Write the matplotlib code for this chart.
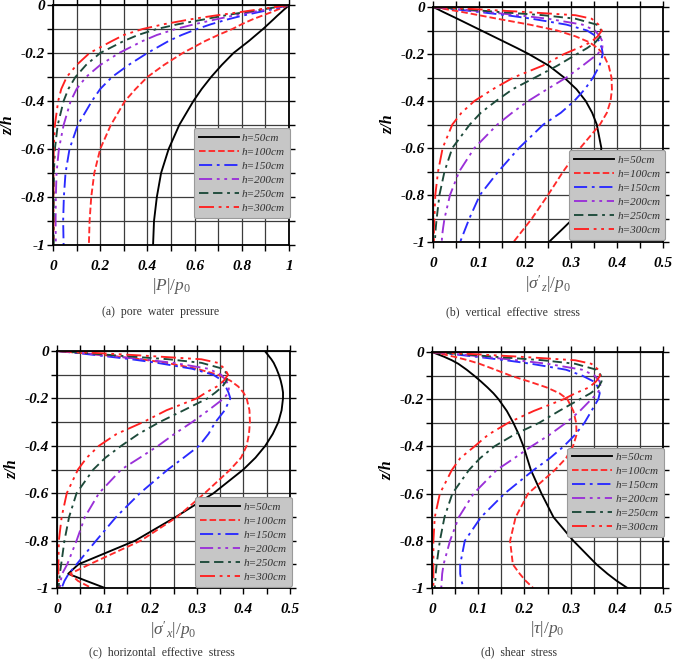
import matplotlib
matplotlib.use("Agg")
import matplotlib.pyplot as plt
from matplotlib.ticker import MultipleLocator, FuncFormatter

plt.rcParams['font.family'] = ['Liberation Serif', 'DejaVu Serif']
plt.rcParams['axes.unicode_minus'] = False
plt.rcParams['mathtext.fontset'] = 'custom'
plt.rcParams['mathtext.rm'] = 'Liberation Serif'
plt.rcParams['mathtext.it'] = 'Liberation Serif:italic'

labels = ['h=50cm', 'h=100cm', 'h=150cm', 'h=200cm', 'h=250cm', 'h=300cm']

# (a) pore water pressure |P|/p0
z_a = [0, -0.01, -0.02, -0.03, -0.045, -0.06, -0.08, -0.1, -0.125, -0.15, -0.2,
       -0.25, -0.3, -0.35, -0.4, -0.5, -0.6, -0.7, -0.8, -0.9, -1.0]
p_h50 = [1.0, 0.99, 0.978, 0.967, 0.95, 0.934, 0.912, 0.89, 0.86, 0.83, 0.765,
         0.715, 0.67, 0.63, 0.595, 0.535, 0.49, 0.458, 0.44, 0.428, 0.424]
p_h100 = [1.0, 0.975, 0.95, 0.925, 0.885, 0.845, 0.8, 0.76, 0.7, 0.645, 0.55,
          0.47, 0.40, 0.35, 0.305, 0.245, 0.2, 0.175, 0.162, 0.155, 0.152]
p_h150 = [1.0, 0.96, 0.92, 0.87, 0.8, 0.74, 0.67, 0.61, 0.545, 0.49, 0.40,
          0.32, 0.25, 0.2, 0.165, 0.105, 0.07, 0.053, 0.046, 0.043, 0.045]
p_h200 = [1.0, 0.95, 0.9, 0.84, 0.76, 0.69, 0.6, 0.52, 0.44, 0.38, 0.28,
          0.2, 0.14, 0.1, 0.075, 0.045, 0.025, 0.015, 0.012, 0.011, 0.012]
p_h250 = [1.0, 0.94, 0.88, 0.81, 0.72, 0.64, 0.53, 0.44, 0.36, 0.3, 0.2,
          0.14, 0.095, 0.065, 0.045, 0.02, 0.008, 0.004, 0.003, 0.003, 0.003]
p_h300 = [1.0, 0.93, 0.86, 0.79, 0.68, 0.58, 0.47, 0.38, 0.3, 0.25, 0.155,
          0.1, 0.058, 0.035, 0.022, 0.008, 0.003, 0.002, 0.002, 0.002, 0.002]

# depth points shared by (b), (c), (d)
z_s = [0, -0.01, -0.02, -0.035, -0.05, -0.075, -0.1, -0.125, -0.15, -0.175, -0.2,
       -0.25, -0.3, -0.35, -0.4, -0.45, -0.5, -0.6, -0.7, -0.8, -0.9, -0.94, -0.97, -1.0]

# (b) vertical effective stress
sz_h50 = [0, 0.011, 0.021, 0.037, 0.053, 0.079, 0.105, 0.131, 0.157, 0.183, 0.208,
          0.252, 0.285, 0.312, 0.332, 0.346, 0.356, 0.366, 0.36, 0.343, 0.305, 0.284, 0.268, 0.252]
sz_h100 = [0, 0.03, 0.06, 0.10, 0.14, 0.21, 0.27, 0.31, 0.34, 0.358, 0.37,
           0.382, 0.388, 0.389, 0.386, 0.378, 0.363, 0.32, 0.283, 0.25, 0.215, 0.199, 0.187, 0.175]
sz_h150 = [0, 0.05, 0.095, 0.16, 0.215, 0.29, 0.335, 0.355, 0.362, 0.367, 0.369,
           0.362, 0.348, 0.33, 0.307, 0.278, 0.24, 0.187, 0.142, 0.102, 0.079, 0.071, 0.065, 0.059]
sz_h200 = [0, 0.06, 0.11, 0.185, 0.25, 0.325, 0.352, 0.363, 0.369, 0.368, 0.358,
           0.325, 0.29, 0.248, 0.207, 0.172, 0.14, 0.09, 0.057, 0.037, 0.025, 0.022, 0.02, 0.019]
sz_h250 = [0, 0.07, 0.135, 0.24, 0.31, 0.356, 0.366, 0.364, 0.353, 0.335, 0.313,
           0.27, 0.222, 0.173, 0.137, 0.104, 0.08, 0.042, 0.025, 0.014, 0.008, 0.006, 0.005, 0.004]
sz_h300 = [0, 0.1, 0.19, 0.31, 0.345, 0.36, 0.367, 0.358, 0.343, 0.315, 0.285,
           0.238, 0.175, 0.13, 0.09, 0.062, 0.042, 0.021, 0.011, 0.005, 0.003, 0.002, 0.002, 0.002]

# (c) horizontal effective stress
sx_h50 = [0.446, 0.45, 0.454, 0.46, 0.465, 0.471, 0.476, 0.48, 0.483, 0.485, 0.485,
          0.482, 0.475, 0.463, 0.447, 0.426, 0.40, 0.336, 0.255, 0.168, 0.046, 0.024, 0.063, 0.103]
sx_h100 = [0, 0.06, 0.115, 0.18, 0.235, 0.3, 0.345, 0.372, 0.389, 0.4, 0.407,
           0.413, 0.414, 0.412, 0.407, 0.395, 0.372, 0.317, 0.258, 0.18, 0.07, 0.028, 0.045, 0.074]
sx_h150 = [0, 0.05, 0.095, 0.16, 0.215, 0.29, 0.335, 0.355, 0.362, 0.368, 0.372,
           0.36, 0.34, 0.325, 0.305, 0.272, 0.238, 0.178, 0.127, 0.084, 0.042, 0.025, 0.016, 0.01]
sx_h200 = [0, 0.06, 0.11, 0.185, 0.25, 0.325, 0.352, 0.363, 0.369, 0.368, 0.358,
           0.325, 0.29, 0.252, 0.217, 0.178, 0.138, 0.09, 0.06, 0.042, 0.022, 0.011, 0.008, 0.006]
sx_h250 = [0, 0.07, 0.135, 0.24, 0.31, 0.356, 0.366, 0.364, 0.355, 0.34, 0.323,
           0.272, 0.22, 0.175, 0.138, 0.104, 0.078, 0.042, 0.026, 0.016, 0.009, 0.006, 0.005, 0.003]
sx_h300 = [0, 0.1, 0.19, 0.31, 0.345, 0.36, 0.367, 0.358, 0.343, 0.32, 0.3,
           0.235, 0.185, 0.128, 0.09, 0.064, 0.045, 0.021, 0.01, 0.004, 0.003, 0.003, 0.003, 0.003]

# (d) shear stress
t_h50 = [0, 0.013, 0.026, 0.043, 0.057, 0.075, 0.091, 0.106, 0.12, 0.133, 0.144,
         0.162, 0.176, 0.188, 0.198, 0.206, 0.214, 0.237, 0.263, 0.306, 0.356, 0.38, 0.4, 0.423]
t_h100 = [0, 0.025, 0.048, 0.078, 0.103, 0.137, 0.17, 0.21, 0.248, 0.276, 0.293,
          0.306, 0.312, 0.313, 0.305, 0.29, 0.266, 0.208, 0.181, 0.169, 0.175, 0.19, 0.203, 0.219]
t_h150 = [0, 0.05, 0.095, 0.16, 0.215, 0.29, 0.325, 0.35, 0.36, 0.363, 0.36,
          0.345, 0.33, 0.31, 0.285, 0.255, 0.22, 0.157, 0.106, 0.071, 0.061, 0.061, 0.064, 0.068]
t_h200 = [0, 0.06, 0.11, 0.185, 0.25, 0.325, 0.352, 0.363, 0.365, 0.358, 0.345,
          0.32, 0.29, 0.255, 0.215, 0.178, 0.14, 0.09, 0.058, 0.039, 0.025, 0.022, 0.021, 0.02]
t_h250 = [0, 0.07, 0.135, 0.24, 0.31, 0.356, 0.366, 0.367, 0.36, 0.343, 0.32,
          0.275, 0.232, 0.178, 0.135, 0.104, 0.08, 0.044, 0.027, 0.017, 0.01, 0.008, 0.007, 0.006]
t_h300 = [0, 0.1, 0.19, 0.31, 0.345, 0.36, 0.364, 0.355, 0.34, 0.31, 0.285,
          0.22, 0.165, 0.122, 0.092, 0.061, 0.043, 0.017, 0.006, 0.003, 0.003, 0.003, 0.003, 0.003]

colors = ['black', '#ff2a2a', '#2a2aff', '#9a30d8', '#1d4a3a', '#ff2020']
dashes = [None, (3.5, 1.6), (7, 2.5, 1.5, 2.5), (7, 2.5, 1.5, 2.5, 1.5, 2.5),
          (5, 2.5, 5, 2.5, 1.5, 2.5), (8, 2.5, 1.5, 2.5, 1.5, 2.5)]


def tick_fmt(v, pos):
    s = '%g' % round(v, 6)
    return '0' if s == '-0' else s


fig = plt.figure(figsize=(6.84, 6.6), dpi=100)

W, H = 684.0, 660.0
def px_axes(l, r, t, b):
    return fig.add_axes([l / W, (H - b) / H, (r - l) / W, (b - t) / H])

panels = [
    (px_axes(53, 289, 5, 245), z_a, [p_h50, p_h100, p_h150, p_h200, p_h250, p_h300],
     1.0, 0.2, 0.1, r'$|P|/p_0$', '(a)  pore  water  pressure', (0.80, 0.30), (161, 312)),
    (px_axes(433, 663, 7, 242), z_s, [sz_h50, sz_h100, sz_h150, sz_h200, sz_h250, sz_h300],
     0.5, 0.1, 0.05, r"$|\sigma'_z|/p_0$", '(b)  vertical  effective  stress', (0.80, 0.20), (513, 312)),
    (px_axes(57, 290, 351, 588), z_s, [sx_h50, sx_h100, sx_h150, sx_h200, sx_h250, sx_h300],
     0.5, 0.1, 0.05, r"$|\sigma'_x|/p_0$", '(c)  horizontal  effective  stress', (0.80, 0.195), (162, 652)),
    (px_axes(432, 663, 352, 588), z_s, [t_h50, t_h100, t_h150, t_h200, t_h250, t_h300],
     0.5, 0.1, 0.05, r'$|\tau|/p_0$', '(d)  shear  stress', (0.795, 0.405), (519, 652)),
]

for ax, z, series, xmax, major, minor, xlab, cap, legc, cap_px in panels:
    for vals, lab, c, d in zip(series, labels, colors, dashes):
        line, = ax.plot(vals, z, color=c, lw=1.35, label=lab)
        if d is not None:
            line.set_dashes(d)
    ax.set_xlim(0, xmax)
    ax.set_ylim(-1, 0)
    ax.xaxis.set_major_locator(MultipleLocator(major))
    ax.xaxis.set_minor_locator(MultipleLocator(minor))
    ax.yaxis.set_major_locator(MultipleLocator(0.2))
    ax.yaxis.set_minor_locator(MultipleLocator(0.1))
    ax.xaxis.set_major_formatter(FuncFormatter(tick_fmt))
    ax.yaxis.set_major_formatter(FuncFormatter(tick_fmt))
    ax.grid(True, which='both', color='#3c3c3c', lw=0.9)
    ax.set_axisbelow(True)
    ax.tick_params(which='both', direction='out', length=4, width=1,
                   top=True, right=True)
    ax.tick_params(axis='x', pad=7)
    ax.tick_params(axis='y', pad=1.5)
    for lbl in ax.get_xticklabels() + ax.get_yticklabels():
        lbl.set_fontweight('bold')
        lbl.set_fontstyle('italic')
        lbl.set_fontsize(11)
    for sp in ax.spines.values():
        sp.set_linewidth(1.3)
    ax.set_ylabel('z/h', fontsize=11.5, fontweight='bold', fontstyle='italic', labelpad=3)
    ax.set_xlabel(xlab, fontsize=12.5, color='#5a5a5a', labelpad=2)
    leg = ax.legend(loc='center', bbox_to_anchor=legc, fontsize=8,
                    handlelength=3.6, handletextpad=0.3, labelspacing=0.38,
                    borderpad=0.45, fancybox=True, framealpha=1,
                    facecolor='#c6c6c6', edgecolor='#9a9a9a')
    for t in leg.get_texts():
        t.set_fontstyle('italic')
        t.set_color('#303030')
    leg.get_frame().set_linewidth(0.8)
    fig.text(cap_px[0] / W, 1 - cap_px[1] / H, cap, ha='center', va='center',
             fontsize=8.5, color='#333333')

fig.savefig('out.png', dpi=100)
